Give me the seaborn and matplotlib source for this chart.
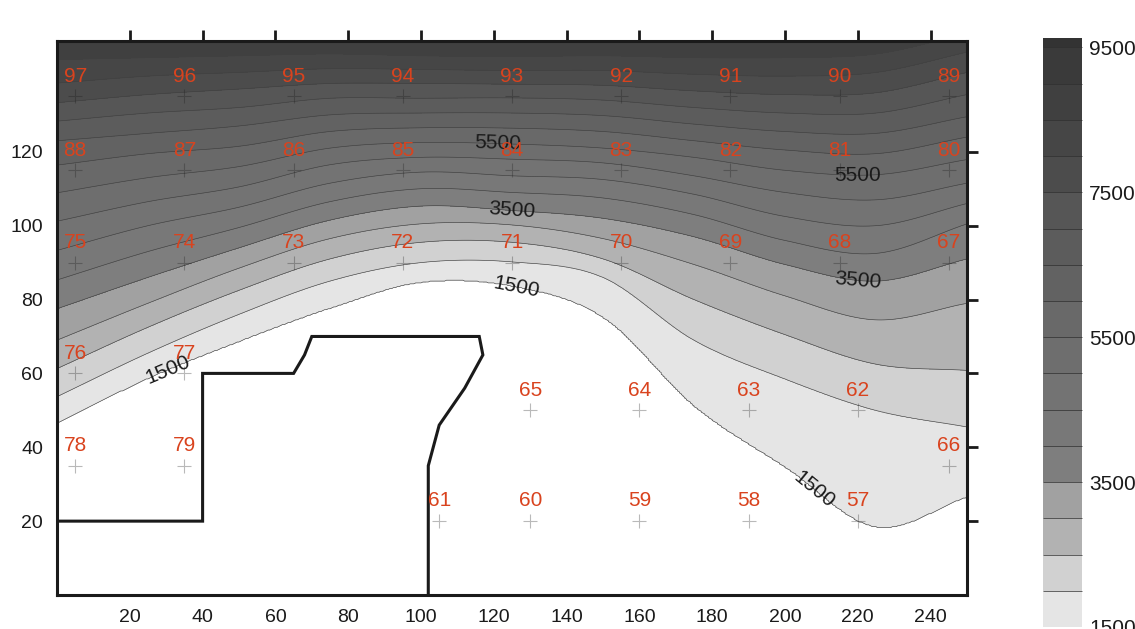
import numpy as np
import matplotlib
matplotlib.use("Agg")
import matplotlib.pyplot as plt
import seaborn as sns

# ---------------- data ----------------
# x positions (m) of the columns where contour heights were read
grid_x = [0, 25, 50, 75, 100, 125, 150, 175, 200, 225, 250]
# contour levels shown in the map / colour scale
levels = [1500, 2000, 2500, 3000, 3500, 4000, 4500, 5000, 5500,
          6000, 6500, 7000, 7500, 8000, 8500, 9000, 9500]
z_max = 9630
# y position of each contour line at the columns in grid_x
line_1500 = [46.3, 58.5, 68.5, 77.5, 84.5, 83.5, 75.0, 51.0, 34.5, 18.3, 26.4]
line_2000 = [53.7, 65.5, 76.0, 85.0, 90.0, 90.2, 86.0, 69.0, 58.5, 50.0, 45.5]
line_2500 = [61.3, 72.5, 82.5, 91.0, 95.5, 95.5, 91.0, 80.0, 70.5, 62.5, 60.8]
line_3000 = [69.0, 79.0, 88.5, 96.5, 100.5, 100.2, 96.5, 89.5, 81.0, 74.5, 79.0]
line_3500 = [77.5, 86.0, 94.0, 101.5, 105.3, 104.1, 102.0, 97.0, 89.5, 85.0, 91.0]
line_4000 = [85.3, 93.0, 99.5, 106.5, 110.0, 109.0, 107.5, 103.0, 96.0, 92.5, 100.5]
line_4500 = [93.3, 100.0, 105.0, 111.5, 114.5, 113.5, 112.5, 108.5, 102.5, 100.0, 106.0]
line_5000 = [101.2, 106.5, 110.5, 116.5, 118.5, 118.0, 117.0, 113.5, 109.0, 107.0, 111.5]
line_5500 = [108.9, 113.0, 116.0, 121.0, 122.5, 122.1, 121.0, 118.5, 115.0, 113.8, 117.9]
line_6000 = [116.4, 119.5, 121.5, 125.5, 126.5, 126.4, 125.5, 123.0, 120.5, 119.5, 124.0]
line_6500 = [123.0, 125.0, 127.0, 130.0, 130.5, 130.5, 129.8, 127.5, 125.5, 125.0, 129.5]
line_7000 = [128.3, 130.5, 132.0, 134.5, 134.5, 134.6, 134.0, 132.0, 130.5, 130.5, 135.5]
line_7500 = [133.3, 135.5, 137.0, 138.5, 138.5, 138.3, 138.0, 136.5, 135.5, 136.0, 141.5]
line_8000 = [138.6, 140.5, 141.5, 142.5, 142.3, 142.0, 142.0, 141.0, 140.5, 141.5, 147.0]
line_8500 = [145.0, 145.5, 146.0, 146.5, 146.0, 145.8, 146.0, 145.5, 145.5, 146.5, 152.0]
line_9000 = [149.8, 150.0, 150.5, 150.5, 150.0, 149.6, 150.0, 150.0, 150.5, 151.5, 157.0]
line_9500 = [154.5, 154.5, 155.0, 154.5, 154.0, 153.5, 154.0, 154.5, 155.0, 156.0, 162.0]

band_colors = ["#e5e5e5", "#d1d1d1", "#b2b2b2", "#a1a1a1", "#7e7e7e", "#787878",
               "#737373", "#6e6e6e", "#696969", "#626262", "#5c5c5c", "#565656",
               "#4c4c4c", "#464646", "#404040", "#3a3a3a", "#333333"]

# sample points (ids and coordinates)
point_ids = [97, 96, 95, 94, 93, 92, 91, 90, 89,
             88, 87, 86, 85, 84, 83, 82, 81, 80,
             75, 74, 73, 72, 71, 70, 69, 68, 67,
             76, 77, 78, 79, 65, 64, 63, 62, 66,
             61, 60, 59, 58, 57]
point_x = [5, 35, 65, 95, 125, 155, 185, 215, 245,
           5, 35, 65, 95, 125, 155, 185, 215, 245,
           5, 35, 65, 95, 125, 155, 185, 215, 245,
           5, 35, 5, 35, 130, 160, 190, 220, 245,
           105, 130, 160, 190, 220]
point_y = [135] * 9 + [115] * 9 + [90] * 9 + [60, 60, 35, 35, 50, 50, 50, 50, 35,
                                             20, 20, 20, 20, 20]

# building outline
boundary_x = [0, 40, 40, 65, 68, 70, 116, 117, 112, 105, 102, 102]
boundary_y = [20, 20, 60, 60, 65, 70, 70, 65, 56, 46, 35, 0]

# contour labels: labelled levels and approximate positions
label_levels = [1500, 3500, 5500]
label_pos = [(30, 61.5), (126, 83), (208, 28.5), (125, 104.1), (220, 85.2),
             (121, 122.2), (220, 114.0)]

# ---------------- build the gridded surface ----------------
lines = [line_1500, line_2000, line_2500, line_3000, line_3500, line_4000,
         line_4500, line_5000, line_5500, line_6000, line_6500, line_7000,
         line_7500, line_8000, line_8500, line_9000, line_9500]


def hermite(xk, yk, xf):
    xk = np.asarray(xk, float)
    yk = np.asarray(yk, float)
    n = len(xk)
    m = np.empty(n)
    m[1:-1] = (yk[2:] - yk[:-2]) / (xk[2:] - xk[:-2])
    m[0] = (yk[1] - yk[0]) / (xk[1] - xk[0])
    m[-1] = (yk[-1] - yk[-2]) / (xk[-1] - xk[-2])
    i = np.clip(np.searchsorted(xk, xf) - 1, 0, n - 2)
    h = xk[i + 1] - xk[i]
    t = (xf - xk[i]) / h
    h00 = 2 * t**3 - 3 * t**2 + 1
    h10 = t**3 - 2 * t**2 + t
    h01 = -2 * t**3 + 3 * t**2
    h11 = t**3 - t**2
    return h00 * yk[i] + h10 * h * m[i] + h01 * yk[i + 1] + h11 * h * m[i + 1]


xf = np.linspace(0, 250, 501)
yf = np.linspace(0, 150, 601)
pos = np.array([hermite(grid_x, ln, xf) for ln in lines])  # (levels, nx)
Z = np.empty((len(yf), len(xf)))
for j in range(len(xf)):
    p = np.maximum.accumulate(pos[:, j] + np.arange(len(levels)) * 1e-6)
    Z[:, j] = np.interp(yf, p, levels, left=1000, right=9600)
X, Y = np.meshgrid(xf, yf)

# ---------------- draw ----------------
sns.set_theme(style="white")
plt.rcParams["font.family"] = ["Liberation Sans", "DejaVu Sans"]
plt.rcParams["text.color"] = "black"
plt.rcParams["xtick.color"] = "black"
plt.rcParams["ytick.color"] = "black"

fig = plt.figure(figsize=(11.35, 6.29), dpi=100)
ax = fig.add_axes([57 / 1135, 34 / 629, 910 / 1135, 554 / 629])
cax = fig.add_axes([1043 / 1135, 2 / 629, 39 / 1135, 589 / 629])

fill_levels = levels + [z_max]
cf = ax.contourf(X, Y, Z, levels=fill_levels, colors=band_colors)
cs = ax.contour(X, Y, Z, levels=levels, colors="#404040", linewidths=0.45)
cs_lab = ax.contour(X, Y, Z, levels=label_levels, colors="#404040", linewidths=0)
ax.clabel(cs_lab, manual=label_pos, inline=False,
          fontsize=15, colors="k", fmt="%d")

ax.plot(boundary_x, boundary_y, color="k", lw=2.2, solid_joinstyle="miter")

sns.scatterplot(x=point_x, y=point_y, marker="+", s=100, color="k", alpha=0.3,
                linewidth=0.8, ax=ax, legend=False, zorder=5)
for pid, px, py in zip(point_ids, point_x, point_y):
    ax.annotate(str(pid), (px, py), xytext=(0, 14.5), textcoords="offset points",
                ha="center", va="center", fontsize=15, color="#d9431e", zorder=6)

ax.set_xlim(0, 250)
ax.set_ylim(0, 150)
ax.set_xticks([20, 40, 60, 80, 100, 120, 140, 160, 180, 200, 220, 240])
ax.set_yticks([20, 40, 60, 80, 100, 120])
ax.tick_params(direction="out", length=8, width=2, top=True, right=True,
               labeltop=False, labelright=False, labelsize=14, pad=2,
               color="k", labelcolor="k")
for sp in ax.spines.values():
    sp.set_visible(True)
    sp.set_color("k")
    sp.set_linewidth(2.2)

cbar = fig.colorbar(cf, cax=cax, ticks=[1500, 3500, 5500, 7500, 9500],
                    drawedges=True, spacing="proportional")
cbar.outline.set_visible(False)
cbar.dividers.set_color("#2e2e2e")
cbar.dividers.set_linewidth(0.5)
cbar.ax.tick_params(length=0, labelsize=15, pad=5, labelcolor="k")

fig.savefig("out.png", dpi=100)
